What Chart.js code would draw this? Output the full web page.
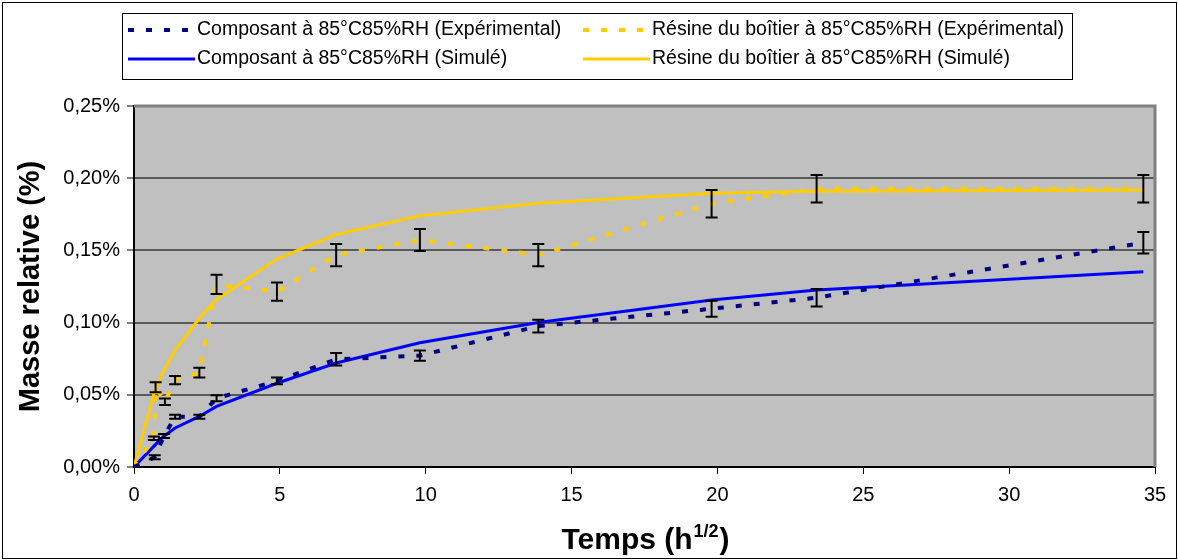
<!DOCTYPE html>
<html>
<head>
<meta charset="utf-8">
<script src="https://cdn.jsdelivr.net/npm/chart.js@4"></script>
<style>
  html, body { margin: 0; padding: 0; background: #fff; }
  #wrap { width: 1178px; height: 560px; }
</style>
</head>
<body>
<div id="wrap"><canvas id="masseChart" width="1178" height="560"></canvas></div>
<script>
// temps en racine d'heures (h^1/2), masses en %
var tempsComposant = [0, 0.71, 1.03, 1.41, 2.24, 2.83, 4.9, 6.93, 9.8, 13.86, 19.8, 23.4, 34.6];
var masseComposantExp = [0, 0.0067, 0.0215, 0.0348, 0.0348, 0.0476, 0.0596, 0.0746, 0.0771, 0.0976, 0.1096, 0.1172, 0.1553];
var erreurComposant = [0, 0.0014, 0.0014, 0.0014, 0.0014, 0.0021, 0.0023, 0.0043, 0.0036, 0.0044, 0.0055, 0.0061, 0.0075];

var tempsResine = [0, 0.68, 0.74, 1.06, 1.41, 2.24, 2.83, 4.9, 6.93, 9.8, 13.86, 19.8, 23.4, 34.6];
var masseResineExp = [0, 0.0199, 0.0552, 0.0452, 0.0602, 0.0653, 0.1265, 0.1214, 0.1468, 0.1572, 0.1468, 0.1823, 0.1927, 0.1927];
var erreurResine = [0, 0.0012, 0.0035, 0.0023, 0.0029, 0.0034, 0.0067, 0.0063, 0.0077, 0.0076, 0.0077, 0.0096, 0.0096, 0.0096];

var tempsSimule = [0, 0.71, 1, 1.41, 2.24, 2.83, 4.9, 6.93, 9.8, 13.86, 19.8, 23.4, 34.6];
var masseComposantSim = [0, 0.015, 0.021, 0.027, 0.035, 0.042, 0.058, 0.072, 0.086, 0.100, 0.1156, 0.1225, 0.1352];
var masseResineSim = [0, 0.053, 0.066, 0.081, 0.103, 0.116, 0.144, 0.161, 0.174, 0.1826, 0.1895, 0.191, 0.1918];

var xMin = 0, xMax = 35, xPas = 5;
var yMin = 0, yMax = 0.25, yPas = 0.05;

function points(xs, ys) {
  return xs.map(function (x, i) { return { x: x, y: ys[i] }; });
}

var police = "'Liberation Sans', Arial, sans-serif";

// fond gris + bord de la zone de tracé
var fondPlugin = {
  id: "fond",
  beforeDraw: function (chart) {
    var c = chart.ctx, a = chart.chartArea;
    c.save();
    c.fillStyle = "#fff";
    c.fillRect(0, 0, chart.width, chart.height);
    c.strokeStyle = "#000";
    c.lineWidth = 1;
    c.strokeRect(2.5, 2.5, chart.width - 4, chart.height - 4);
    c.fillStyle = "#C0C0C0";
    c.fillRect(a.left, a.top, a.right - a.left, a.bottom - a.top);
    c.restore();
  },
  beforeDatasetsDraw: function (chart) {
    var c = chart.ctx, a = chart.chartArea;
    c.save();
    c.strokeStyle = "#808080";
    c.lineWidth = 3;
    c.beginPath();
    c.moveTo(a.left, a.top);
    c.lineTo(a.right, a.top);
    c.lineTo(a.right, a.bottom);
    c.stroke();
    c.restore();
  }
};

// barres d'erreur
var erreurPlugin = {
  id: "erreurs",
  afterDatasetsDraw: function (chart) {
    var c = chart.ctx;
    var sx = chart.scales.x, sy = chart.scales.y;
    c.save();
    c.strokeStyle = "#000";
    c.lineWidth = 2;
    chart.data.datasets.forEach(function (ds) {
      if (!ds.erreurs) return;
      ds.data.forEach(function (p, i) {
        var e = ds.erreurs[i];
        if (!e) return;
        var px = sx.getPixelForValue(p.x);
        var haut = sy.getPixelForValue(p.y + e);
        var bas = sy.getPixelForValue(p.y - e);
        c.beginPath();
        c.moveTo(px, haut); c.lineTo(px, bas);
        c.moveTo(px - 6, haut); c.lineTo(px + 6, haut);
        c.moveTo(px - 6, bas); c.lineTo(px + 6, bas);
        c.stroke();
      });
    });
    c.restore();
  }
};

// légende encadrée sur deux colonnes + titre de l'axe x avec exposant
var legendePlugin = {
  id: "legende",
  afterDraw: function (chart) {
    var c = chart.ctx;
    c.save();
    c.strokeStyle = "#000";
    c.lineWidth = 1;
    c.strokeRect(122.5, 13.5, 950, 66);
    var cases = [[128, 30], [583, 30], [128, 59], [583, 59]];
    c.font = "19.5px " + police;
    c.textBaseline = "middle";
    c.fillStyle = "#000";
    chart.data.datasets.forEach(function (ds, i) {
      var x = cases[i][0], y = cases[i][1];
      c.strokeStyle = ds.borderColor;
      c.lineWidth = ds.borderDash.length ? 4 : 3;
      c.setLineDash(ds.borderDash.length ? [6, 12] : []);
      c.beginPath();
      c.moveTo(x, y); c.lineTo(x + 67, y);
      c.stroke();
      c.setLineDash([]);
      c.fillText(ds.label, x + 69, y);
    });

    var a = chart.chartArea;
    var cx = (a.left + a.right) / 2, base = 549;
    var t1 = "Temps (h", t2 = "1/2", t3 = ")";
    c.font = "bold 30px " + police;
    var w1 = c.measureText(t1).width, w3 = c.measureText(t3).width;
    c.font = "bold 18px " + police;
    var w2 = c.measureText(t2).width;
    var x0 = cx - (w1 + w2 + w3) / 2;
    c.textBaseline = "alphabetic";
    c.font = "bold 30px " + police;
    c.fillText(t1, x0, base);
    c.font = "bold 18px " + police;
    c.fillText(t2, x0 + w1 + 1, base - 12);
    c.font = "bold 30px " + police;
    c.fillText(t3, x0 + w1 + w2 + 2, base);
    c.restore();
  }
};

var ctx = document.getElementById("masseChart").getContext("2d");

var myChart = new Chart(ctx, {
  type: "line",
  data: {
    datasets: [
      {
        label: "Composant à 85°C85%RH (Expérimental)",
        data: points(tempsComposant, masseComposantExp),
        erreurs: erreurComposant,
        borderColor: "#000080",
        borderWidth: 4,
        borderDash: [6, 12],
        pointRadius: 0,
        tension: 0,
        fill: false
      },
      {
        label: "Résine du boîtier à 85°C85%RH (Expérimental)",
        data: points(tempsResine, masseResineExp),
        erreurs: erreurResine,
        borderColor: "#FFCC00",
        borderWidth: 4,
        borderDash: [6, 12],
        pointRadius: 0,
        tension: 0,
        fill: false
      },
      {
        label: "Composant à 85°C85%RH (Simulé)",
        data: points(tempsSimule, masseComposantSim),
        borderColor: "#0000FF",
        borderWidth: 3,
        borderDash: [],
        pointRadius: 0,
        tension: 0,
        fill: false
      },
      {
        label: "Résine du boîtier à 85°C85%RH (Simulé)",
        data: points(tempsSimule, masseResineSim),
        borderColor: "#FFCC00",
        borderWidth: 3,
        borderDash: [],
        pointRadius: 0,
        tension: 0,
        fill: false
      }
    ]
  },
  options: {
    responsive: false,
    animation: false,
    devicePixelRatio: 1,
    layout: { padding: { top: 106, right: 23, left: 0, bottom: 0 } },
    plugins: {
      legend: { display: false },
      tooltip: { enabled: false }
    },
    scales: {
      x: {
        type: "linear",
        min: xMin,
        max: xMax,
        ticks: { stepSize: xPas, color: "#000", font: { family: police, size: 20 }, padding: 9, maxRotation: 0 },
        grid: { drawOnChartArea: false, tickLength: 7, tickColor: "#000", lineWidth: 1 },
        border: { color: "#000", width: 2 },
        afterFit: function (s) { s.height = 93; }
      },
      y: {
        min: yMin,
        max: yMax,
        ticks: {
          stepSize: yPas,
          color: "#000",
          font: { family: police, size: 20 },
          padding: 7,
          callback: function (v) { return v.toFixed(2).replace(".", ",") + "%"; }
        },
        grid: { color: "#5a5a5a", lineWidth: 2, tickLength: 7, tickColor: "#000", tickWidth: 1 },
        border: { color: "#000", width: 2 },
        title: {
          display: true,
          text: "Masse relative (%)",
          color: "#000",
          font: { family: police, size: 29, weight: "bold" },
          padding: { top: 14, bottom: 0 }
        },
        afterFit: function (s) { s.width = 134; }
      }
    }
  },
  plugins: [fondPlugin, erreurPlugin, legendePlugin]
});
</script>
</body>
</html>
